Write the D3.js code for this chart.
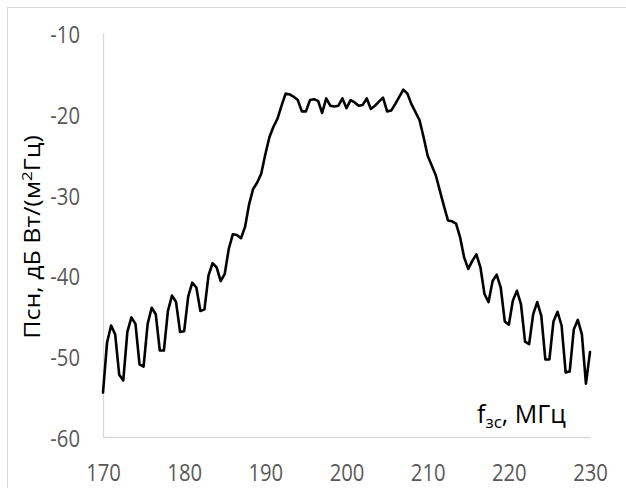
<!DOCTYPE html>
<html><head><meta charset="utf-8">
<script src="https://cdn.jsdelivr.net/npm/d3@7"></script>
<style>body{margin:0;background:#fff}svg{display:block}</style>
</head><body>
<script>
const freq = [170,170.5,171,171.5,172,172.5,173,173.5,174,174.5,175,175.5,176,176.5,177,177.5,178,178.5,179,179.5,
180,180.5,181,181.5,182,182.5,183,183.5,184,184.5,185,185.5,186,186.5,187,187.5,188,188.5,189,189.5,
190,190.5,191,191.5,192,192.5,193,193.5,194,194.5,195,195.5,196,196.5,197,197.5,198,198.5,199,199.5,
200,200.5,201,201.5,202,202.5,203,203.5,204,204.5,205,205.5,206,206.5,207,207.5,208,208.5,209,209.5,
210,210.5,211,211.5,212,212.5,213,213.5,214,214.5,215,215.5,216,216.5,217,217.5,218,218.5,219,219.5,
220,220.5,221,221.5,222,222.5,223,223.5,224,224.5,225,225.5,226,226.5,227,227.5,228,228.5,229,229.5,230];
const psd = [-54.5,-48.3,-46.2,-47.3,-52.3,-53,-47,-45.2,-46,-51,-51.3,-46,-44,-44.8,-49.3,-49.3,-44.4,-42.5,-43.3,-47,
-46.9,-42.6,-40.9,-41.5,-44.4,-44.2,-40,-38.5,-39,-40.7,-39.8,-36.7,-34.9,-35,-35.4,-34,-31.2,-29.3,-28.5,-27.4,
-25,-22.9,-21.6,-20.6,-19,-17.5,-17.6,-17.9,-18.3,-19.7,-19.7,-18.3,-18.2,-18.4,-19.9,-18.1,-19,-19.1,-19,-18.1,
-19.3,-18.3,-18.6,-19,-18.9,-18.1,-19.4,-19,-18.5,-18,-19.7,-19.6,-18.8,-17.9,-17,-17.5,-18.8,-19.8,-20.8,-22.9,
-25.2,-26.4,-27.6,-29.5,-31.4,-33.2,-33.3,-33.6,-35.3,-37.8,-39.2,-38.2,-37.4,-39,-42.3,-43.3,-40.7,-39.9,-41.5,-45.7,
-46.1,-43.1,-41.9,-43.6,-48.2,-48.5,-44.8,-43.3,-45,-50.4,-50.4,-45.7,-44.5,-46.2,-52,-51.9,-46.7,-45.5,-47.3,-53.4,-49.5];
const xTicks = [170,180,190,200,210,220,230];
const yTicks = [-60,-50,-40,-30,-20,-10];

const W = 626, H = 488;
const svg = d3.select("body").append("svg").attr("width", W).attr("height", H);
const font = "'Open Sans', 'Noto Sans', sans-serif";
const fmt = d => String(d); // hyphen-minus as in the reference

svg.append("rect").attr("x", 7.5).attr("y", 7.5).attr("width", W + 20).attr("height", H + 20)
  .attr("fill", "none").attr("stroke", "#d9d9d9").attr("stroke-width", 1);

const x = d3.scaleLinear().domain([170, 230]).range([103, 590]);
const y = d3.scaleLinear().domain([-60, -10]).range([437, 33]);
const sx = 0.88;

const xAxis = svg.append("g").attr("transform", `translate(0,${y(-60)})`)
  .call(d3.axisBottom(x).tickValues(xTicks).tickSize(0).tickFormat(fmt));
xAxis.select(".domain").attr("stroke", "#d9d9d9").attr("stroke-width", 1.3);
xAxis.selectAll("text").attr("fill", "#595959").style("font-family", font).style("font-size", "23px")
  .attr("y", 44).attr("dy", null).attr("transform", `scale(${sx},1)`);

const yAxis = svg.append("g").attr("transform", `translate(${x(170)},0)`)
  .call(d3.axisLeft(y).tickValues(yTicks).tickSize(0).tickFormat(fmt));
yAxis.select(".domain").attr("stroke", "#d9d9d9").attr("stroke-width", 1.3);
yAxis.selectAll("text").attr("fill", "#595959").style("font-family", font).style("font-size", "23px")
  .attr("x", -23 / sx).attr("y", 9.5).attr("dy", null).attr("transform", `scale(${sx},1)`);

const data = freq.map((f, i) => [f, psd[i]]);
svg.append("path").datum(data)
  .attr("fill", "none").attr("stroke", "#000").attr("stroke-width", 2.6)
  .attr("stroke-linejoin", "round").attr("stroke-linecap", "round")
  .attr("d", d3.line().x(d => x(d[0])).y(d => y(d[1])));

// y title
const yt = svg.append("text").attr("transform", `translate(40,237) rotate(-90) scale(1,${sx})`)
  .attr("text-anchor", "middle").attr("fill", "#000")
  .style("font-family", font).style("font-size", "25px").style("font-weight", 400);
yt.append("tspan").text("Псн, дБ Вт/(м");
yt.append("tspan").text("2").attr("dy", -9).style("font-size", "17px");
yt.append("tspan").text("Гц)").attr("dy", 9);

// x title
const xt = svg.append("text").attr("x", 477).attr("y", 423).attr("fill", "#000")
  .style("font-family", font).style("font-size", "25px");
xt.append("tspan").text("f");
xt.append("tspan").text("зс").attr("dy", 5).style("font-size", "17px");
xt.append("tspan").text(", МГц").attr("dy", -5);
</script>
</body></html>
